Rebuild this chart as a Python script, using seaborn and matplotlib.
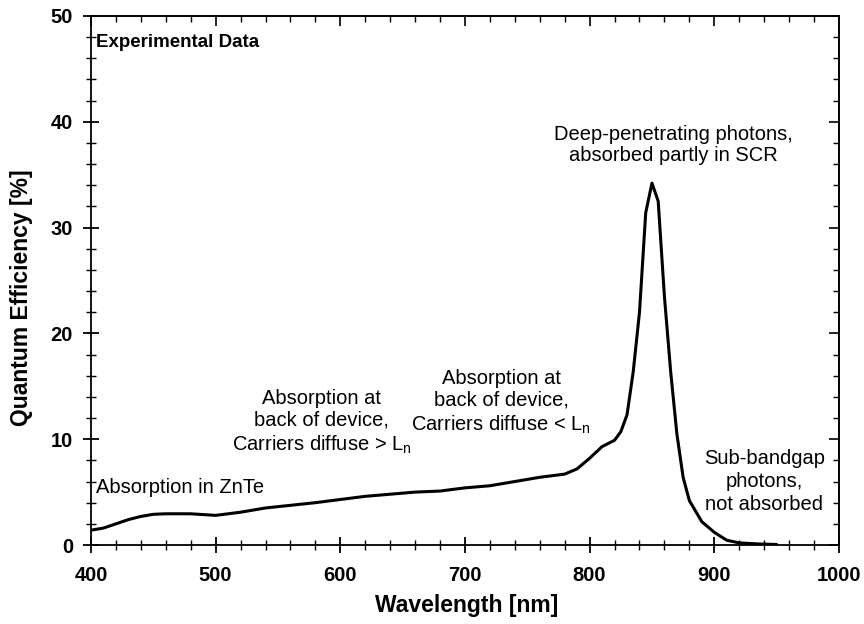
import numpy as np
import pandas as pd
import matplotlib
matplotlib.use("Agg")
import matplotlib.pyplot as plt
import seaborn as sns
from matplotlib.ticker import MultipleLocator

wavelength = [400, 410, 420, 430, 440, 450, 460, 480, 500, 520, 540, 560, 580,
              600, 620, 640, 660, 680, 700, 720, 740, 760, 780, 790, 800, 810,
              820, 825, 830, 835, 840, 845, 850, 855, 860, 865, 870, 875, 880,
              890, 900, 910, 920, 935, 950]
qe = [1.4, 1.6, 2.0, 2.4, 2.7, 2.9, 2.95, 2.95, 2.8, 3.1, 3.5, 3.75, 4.0,
      4.3, 4.6, 4.8, 5.0, 5.1, 5.4, 5.6, 6.0, 6.4, 6.7, 7.2, 8.2, 9.3,
      9.9, 10.7, 12.3, 16.4, 22.0, 31.4, 34.2, 32.5, 23.5, 16.4, 10.5, 6.4, 4.2,
      2.2, 1.2, 0.45, 0.2, 0.1, 0.05]

sns.set_theme(style="ticks")
plt.rcParams["font.family"] = ["Liberation Sans", "DejaVu Sans"]
plt.rcParams["mathtext.fontset"] = "custom"
plt.rcParams["mathtext.rm"] = "Liberation Sans"
plt.rcParams["text.color"] = "black"
plt.rcParams["axes.labelcolor"] = "black"
plt.rcParams["xtick.color"] = "black"
plt.rcParams["ytick.color"] = "black"

df = pd.DataFrame({"Wavelength": wavelength, "QE": qe})

fig = plt.figure(figsize=(8.64, 6.24), dpi=100)
ax = fig.add_axes([0.1053, 0.1266, 0.8657, 0.8478])
sns.lineplot(data=df, x="Wavelength", y="QE", color="black", linewidth=2.2, ax=ax)

ax.set_xlim(400, 1000)
ax.set_ylim(0, 50)
ax.xaxis.set_major_locator(MultipleLocator(100))
ax.xaxis.set_minor_locator(MultipleLocator(20))
ax.yaxis.set_major_locator(MultipleLocator(10))
ax.yaxis.set_minor_locator(MultipleLocator(2))

for s in ax.spines.values():
    s.set_linewidth(1.3)
    s.set_color("black")

ax.tick_params(which="major", direction="inout", length=12, width=1.3,
               labelsize=14.5)
ax.tick_params(axis="x", which="major", pad=9)
ax.tick_params(axis="y", which="major", pad=7)
ax.tick_params(which="minor", direction="inout", length=7, width=1.0)
for lab in ax.get_xticklabels() + ax.get_yticklabels():
    lab.set_fontweight("bold")

secx = ax.secondary_xaxis("top")
secx.xaxis.set_major_locator(MultipleLocator(100))
secx.xaxis.set_minor_locator(MultipleLocator(20))
secx.tick_params(which="major", direction="in", length=7, width=1.2, labeltop=False)
secx.tick_params(which="minor", direction="in", length=4, width=1.0)
secy = ax.secondary_yaxis("right")
secy.yaxis.set_major_locator(MultipleLocator(10))
secy.yaxis.set_minor_locator(MultipleLocator(2))
secy.tick_params(which="major", direction="in", length=7, width=1.2, labelright=False)
secy.tick_params(which="minor", direction="in", length=4, width=1.0)

ax.set_xlabel("Wavelength [nm]", fontsize=16.5, fontweight="bold")
ax.set_ylabel("Quantum Efficiency [%]", fontsize=16.5, fontweight="bold")
ax.xaxis.set_label_coords(0.502, -0.093)
ax.yaxis.set_label_coords(-0.078, 0.467)

ax.text(404, 47.5, "Experimental Data", fontsize=13.5, fontweight="bold",
        ha="left", va="center")
ax.text(404, 5.4, "Absorption in ZnTe", fontsize=14.5, ha="left", va="center")
ax.text(585, 11.6, "Absorption at\nback of device,\nCarriers diffuse > $\\mathregular{L_n}$",
        fontsize=14.5, ha="center", va="center", linespacing=1.2)
ax.text(729, 13.5, "Absorption at\nback of device,\nCarriers diffuse < $\\mathregular{L_n}$",
        fontsize=14.5, ha="center", va="center", linespacing=1.2)
ax.text(867, 37.8, "Deep-penetrating photons,\nabsorbed partly in SCR",
        fontsize=14.5, ha="center", va="center", linespacing=1.1)
ax.text(940, 6.0, "Sub-bandgap\nphotons,\nnot absorbed",
        fontsize=14.5, ha="center", va="center", linespacing=1.25)

fig.savefig("out.png", dpi=100)
